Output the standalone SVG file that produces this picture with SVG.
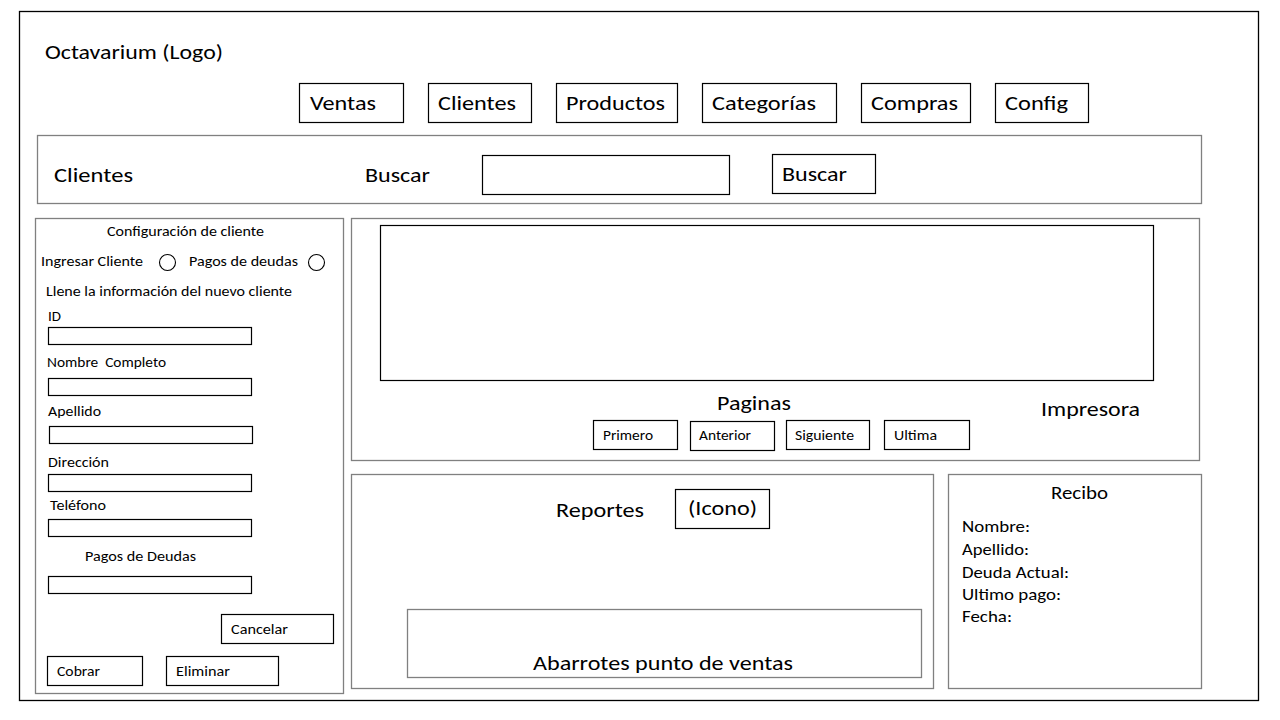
<svg xmlns="http://www.w3.org/2000/svg" width="1280" height="720" viewBox="0 0 1280 720">
<style>
text{font-family:Calibri,Carlito,"Liberation Sans",Arial,sans-serif;fill:#000}
.lg{font-size:21px}
.md{font-size:18px}
.sm{font-size:14px}
.pan{fill:#fff;stroke:#808080;stroke-width:1.3}
.box{fill:#fff;stroke:#000;stroke-width:1.2}
</style>
<rect width="1280" height="720" fill="#fff"/>
<rect x="19.5" y="11.5" width="1239" height="689" fill="none" stroke="#000" stroke-width="1.3"/>
<g id="logo"><text class="lg" x="45" y="59" textLength="178" lengthAdjust="spacingAndGlyphs">Octavarium (Logo)</text></g>
<g id="nav">
<rect class="box" x="299.5" y="83.5" width="104" height="39"/><text class="lg" x="310" y="110" textLength="66" lengthAdjust="spacingAndGlyphs">Ventas</text>
<rect class="box" x="428.5" y="83.5" width="103" height="39"/><text class="lg" x="438" y="110" textLength="78" lengthAdjust="spacingAndGlyphs">Clientes</text>
<rect class="box" x="556.5" y="83.5" width="121" height="39"/><text class="lg" x="566" y="110" textLength="99" lengthAdjust="spacingAndGlyphs">Productos</text>
<rect class="box" x="702.5" y="83.5" width="134" height="39"/><text class="lg" x="712" y="110" textLength="104" lengthAdjust="spacingAndGlyphs">Categorías</text>
<rect class="box" x="861.5" y="83.5" width="109" height="39"/><text class="lg" x="871" y="110" textLength="87" lengthAdjust="spacingAndGlyphs">Compras</text>
<rect class="box" x="995.5" y="83.5" width="93" height="39"/><text class="lg" x="1005" y="110" textLength="63" lengthAdjust="spacingAndGlyphs">Config</text>
</g>
<g id="search">
<rect class="pan" x="37.5" y="135.5" width="1164" height="68"/>
<text class="lg" x="54" y="182" textLength="79" lengthAdjust="spacingAndGlyphs">Clientes</text>
<text class="lg" x="365" y="182" textLength="65" lengthAdjust="spacingAndGlyphs">Buscar</text>
<rect class="box" x="482.5" y="155.5" width="247" height="39"/>
<rect class="box" x="772.5" y="154.5" width="103" height="39"/>
<text class="lg" x="782" y="181" textLength="65" lengthAdjust="spacingAndGlyphs">Buscar</text>
</g>
<g id="config">
<rect class="pan" x="35.5" y="218.5" width="308" height="475"/>
<text class="sm" x="107" y="236" textLength="157" lengthAdjust="spacingAndGlyphs">Configuración de cliente</text>
<text class="sm" x="41" y="266" textLength="102" lengthAdjust="spacingAndGlyphs">Ingresar Cliente</text>
<circle cx="167.5" cy="262.5" r="8" fill="#fff" stroke="#000" stroke-width="1.1"/>
<text class="sm" x="189" y="266" textLength="109" lengthAdjust="spacingAndGlyphs">Pagos de deudas</text>
<circle cx="316.5" cy="262.5" r="8" fill="#fff" stroke="#000" stroke-width="1.1"/>
<text class="sm" x="46" y="296" textLength="246" lengthAdjust="spacingAndGlyphs">Llene la información del nuevo cliente</text>
<text class="sm" x="48" y="321" textLength="13" lengthAdjust="spacingAndGlyphs">ID</text>
<rect class="box" x="48.5" y="327.5" width="203" height="17"/>
<text class="sm" x="47" y="367" textLength="119" lengthAdjust="spacingAndGlyphs" xml:space="preserve">Nombre  Completo</text>
<rect class="box" x="48.5" y="378.5" width="203" height="17"/>
<text class="sm" x="48" y="416" textLength="53" lengthAdjust="spacingAndGlyphs">Apellido</text>
<rect class="box" x="49.5" y="426.5" width="203" height="17"/>
<text class="sm" x="48" y="467" textLength="61" lengthAdjust="spacingAndGlyphs">Dirección</text>
<rect class="box" x="48.5" y="474.5" width="203" height="17"/>
<text class="sm" x="50" y="510" textLength="56" lengthAdjust="spacingAndGlyphs">Teléfono</text>
<rect class="box" x="48.5" y="519.5" width="203" height="17"/>
<text class="sm" x="85" y="561" textLength="111" lengthAdjust="spacingAndGlyphs">Pagos de Deudas</text>
<rect class="box" x="48.5" y="576.5" width="203" height="17"/>
<rect class="box" x="221.5" y="614.5" width="112" height="29"/>
<text class="sm" x="231" y="634" textLength="57" lengthAdjust="spacingAndGlyphs">Cancelar</text>
<rect class="box" x="47.5" y="656.5" width="95" height="29"/>
<text class="sm" x="57" y="676" textLength="43" lengthAdjust="spacingAndGlyphs">Cobrar</text>
<rect class="box" x="166.5" y="656.5" width="112" height="29"/>
<text class="sm" x="176" y="676" textLength="54" lengthAdjust="spacingAndGlyphs">Eliminar</text>
</g>
<g id="lista">
<rect class="pan" x="351.5" y="218.5" width="848" height="242"/>
<rect class="box" x="380.5" y="225.5" width="773" height="155"/>
<text class="md" x="717" y="410" textLength="74" lengthAdjust="spacingAndGlyphs" style="font-size:20px">Paginas</text>
<text class="md" x="1041" y="416" textLength="99" lengthAdjust="spacingAndGlyphs" style="font-size:20px">Impresora</text>
<rect class="box" x="593.5" y="420.5" width="84" height="29"/>
<text class="sm" x="603" y="440" textLength="50" lengthAdjust="spacingAndGlyphs">Primero</text>
<rect class="box" x="690.5" y="421.5" width="84" height="29"/>
<text class="sm" x="699" y="440" textLength="52" lengthAdjust="spacingAndGlyphs">Anterior</text>
<rect class="box" x="786.5" y="420.5" width="83" height="29"/>
<text class="sm" x="795" y="440" textLength="59" lengthAdjust="spacingAndGlyphs">Siguiente</text>
<rect class="box" x="884.5" y="420.5" width="85" height="29"/>
<text class="sm" x="894" y="440" textLength="43" lengthAdjust="spacingAndGlyphs">Ultima</text>
</g>
<g id="reportes">
<rect class="pan" x="351.5" y="474.5" width="582" height="214"/>
<text class="lg" x="556" y="517" textLength="88" lengthAdjust="spacingAndGlyphs">Reportes</text>
<rect class="box" x="675.5" y="489.5" width="94" height="39"/>
<text class="lg" x="688" y="515" textLength="69" lengthAdjust="spacingAndGlyphs">(Icono)</text>
<rect class="pan" x="407.5" y="609.5" width="514" height="68"/>
<text class="lg" x="533" y="670" textLength="260" lengthAdjust="spacingAndGlyphs">Abarrotes punto de ventas</text>
</g>
<g id="recibo">
<rect class="pan" x="948.5" y="474.5" width="253" height="214"/>
<text class="md" x="1051" y="499" textLength="57" lengthAdjust="spacingAndGlyphs">Recibo</text>
<text class="md" x="962" y="532" textLength="68" lengthAdjust="spacingAndGlyphs" style="font-size:17px">Nombre:</text>
<text class="md" x="962" y="555" textLength="67" lengthAdjust="spacingAndGlyphs" style="font-size:17px">Apellido:</text>
<text class="md" x="962" y="578" textLength="107" lengthAdjust="spacingAndGlyphs" style="font-size:17px">Deuda Actual:</text>
<text class="md" x="962" y="600" textLength="99" lengthAdjust="spacingAndGlyphs" style="font-size:17px">Ultimo pago:</text>
<text class="md" x="962" y="622" textLength="50" lengthAdjust="spacingAndGlyphs" style="font-size:17px">Fecha:</text>
</g>
<g id="connectors"></g>
</svg>
